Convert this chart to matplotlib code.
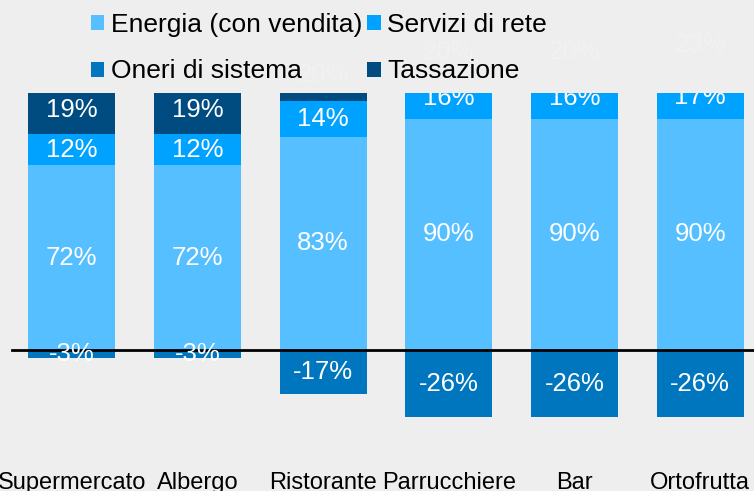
import matplotlib
matplotlib.use("Agg")
import matplotlib.pyplot as plt
import numpy as np

plt.rcParams['font.family'] = ['Liberation Sans', 'DejaVu Sans']

categories = ["Supermercato", "Albergo", "Ristorante", "Parrucchiere", "Bar", "Ortofrutta"]
energia = [72, 72, 83, 90, 90, 90]
servizi = [12, 12, 14, 16, 16, 17]
oneri = [-3, -3, -17, -26, -26, -26]
tassazione = [19, 19, 20, 20, 20, 23]

series_names = ["Energia (con vendita)", "Servizi di rete", "Oneri di sistema", "Tassazione"]
colors = ["#55bfff", "#00a2ff", "#0076be", "#004b80"]

W, H = 754, 491
fig = plt.figure(figsize=(W / 100, H / 100), dpi=100)
fig.patch.set_facecolor("#eeeeee")

ax_left, ax_right = 9, 763
ax_top, ax_bot = 93, 453
ax = fig.add_axes([ax_left / W, (H - ax_bot) / H, (ax_right - ax_left) / W, (ax_bot - ax_top) / H])
ax.set_facecolor("none")
for s in ax.spines.values():
    s.set_visible(False)
ax.set_xticks([])
ax.set_yticks([])
ax.set_xlim(-0.5, len(categories) - 0.5)
ax.set_ylim(-40, 100)

x = np.arange(len(categories))
bw = 0.69
en = np.array(energia)
sv = np.array(servizi)
on = np.array(oneri)
tx = np.array(tassazione)

b1 = ax.bar(x, en, bw, color=colors[0], label=series_names[0])
b2 = ax.bar(x, sv, bw, bottom=en, color=colors[1], label=series_names[1])
b3 = ax.bar(x, on, bw, color=colors[2], label=series_names[2])
b4 = ax.bar(x, tx, bw, bottom=en + sv, color=colors[3], label=series_names[3])

ax.axhline(0, color="black", lw=2, xmin=0.004, zorder=5)

fs = 18.5
def lab(xs, centers, vals):
    for xi, c, v in zip(xs, centers, vals):
        if c > 100:
            ax.text(xi, c, f"{v}%", ha="center", va="center", color="white", fontsize=fs,
                    alpha=0.2, clip_on=False, zorder=1)
        else:
            ax.text(xi, c, f"{v}%", ha="center", va="center", color="white", fontsize=fs,
                    clip_on=True, zorder=6)

lab(x, en / 2, energia)
lab(x, en + sv / 2, servizi)
lab(x, on / 2, oneri)
lab(x, en + sv + tx / 2, tassazione)

for xi, c in zip(x, categories):
    ax.text(xi, -51.5, c, ha="center", va="center", fontsize=17, color="black", clip_on=False)

# row-major order in a 2-column legend (matplotlib fills column-wise)
handles = [b1, b3, b2, b4]
labels = [series_names[0], series_names[2], series_names[1], series_names[3]]
leg = fig.legend(handles=handles, labels=labels, ncol=2,
                 loc="upper left", bbox_to_anchor=(91 / W, 1 - 13 / H),
                 frameon=False, fontsize=19, handlelength=0.5, handleheight=0.5,
                 handletextpad=0.25, columnspacing=0.2, labelspacing=0.85,
                 borderpad=0, borderaxespad=0)

fig.savefig("out.png", dpi=100, facecolor=fig.get_facecolor())
